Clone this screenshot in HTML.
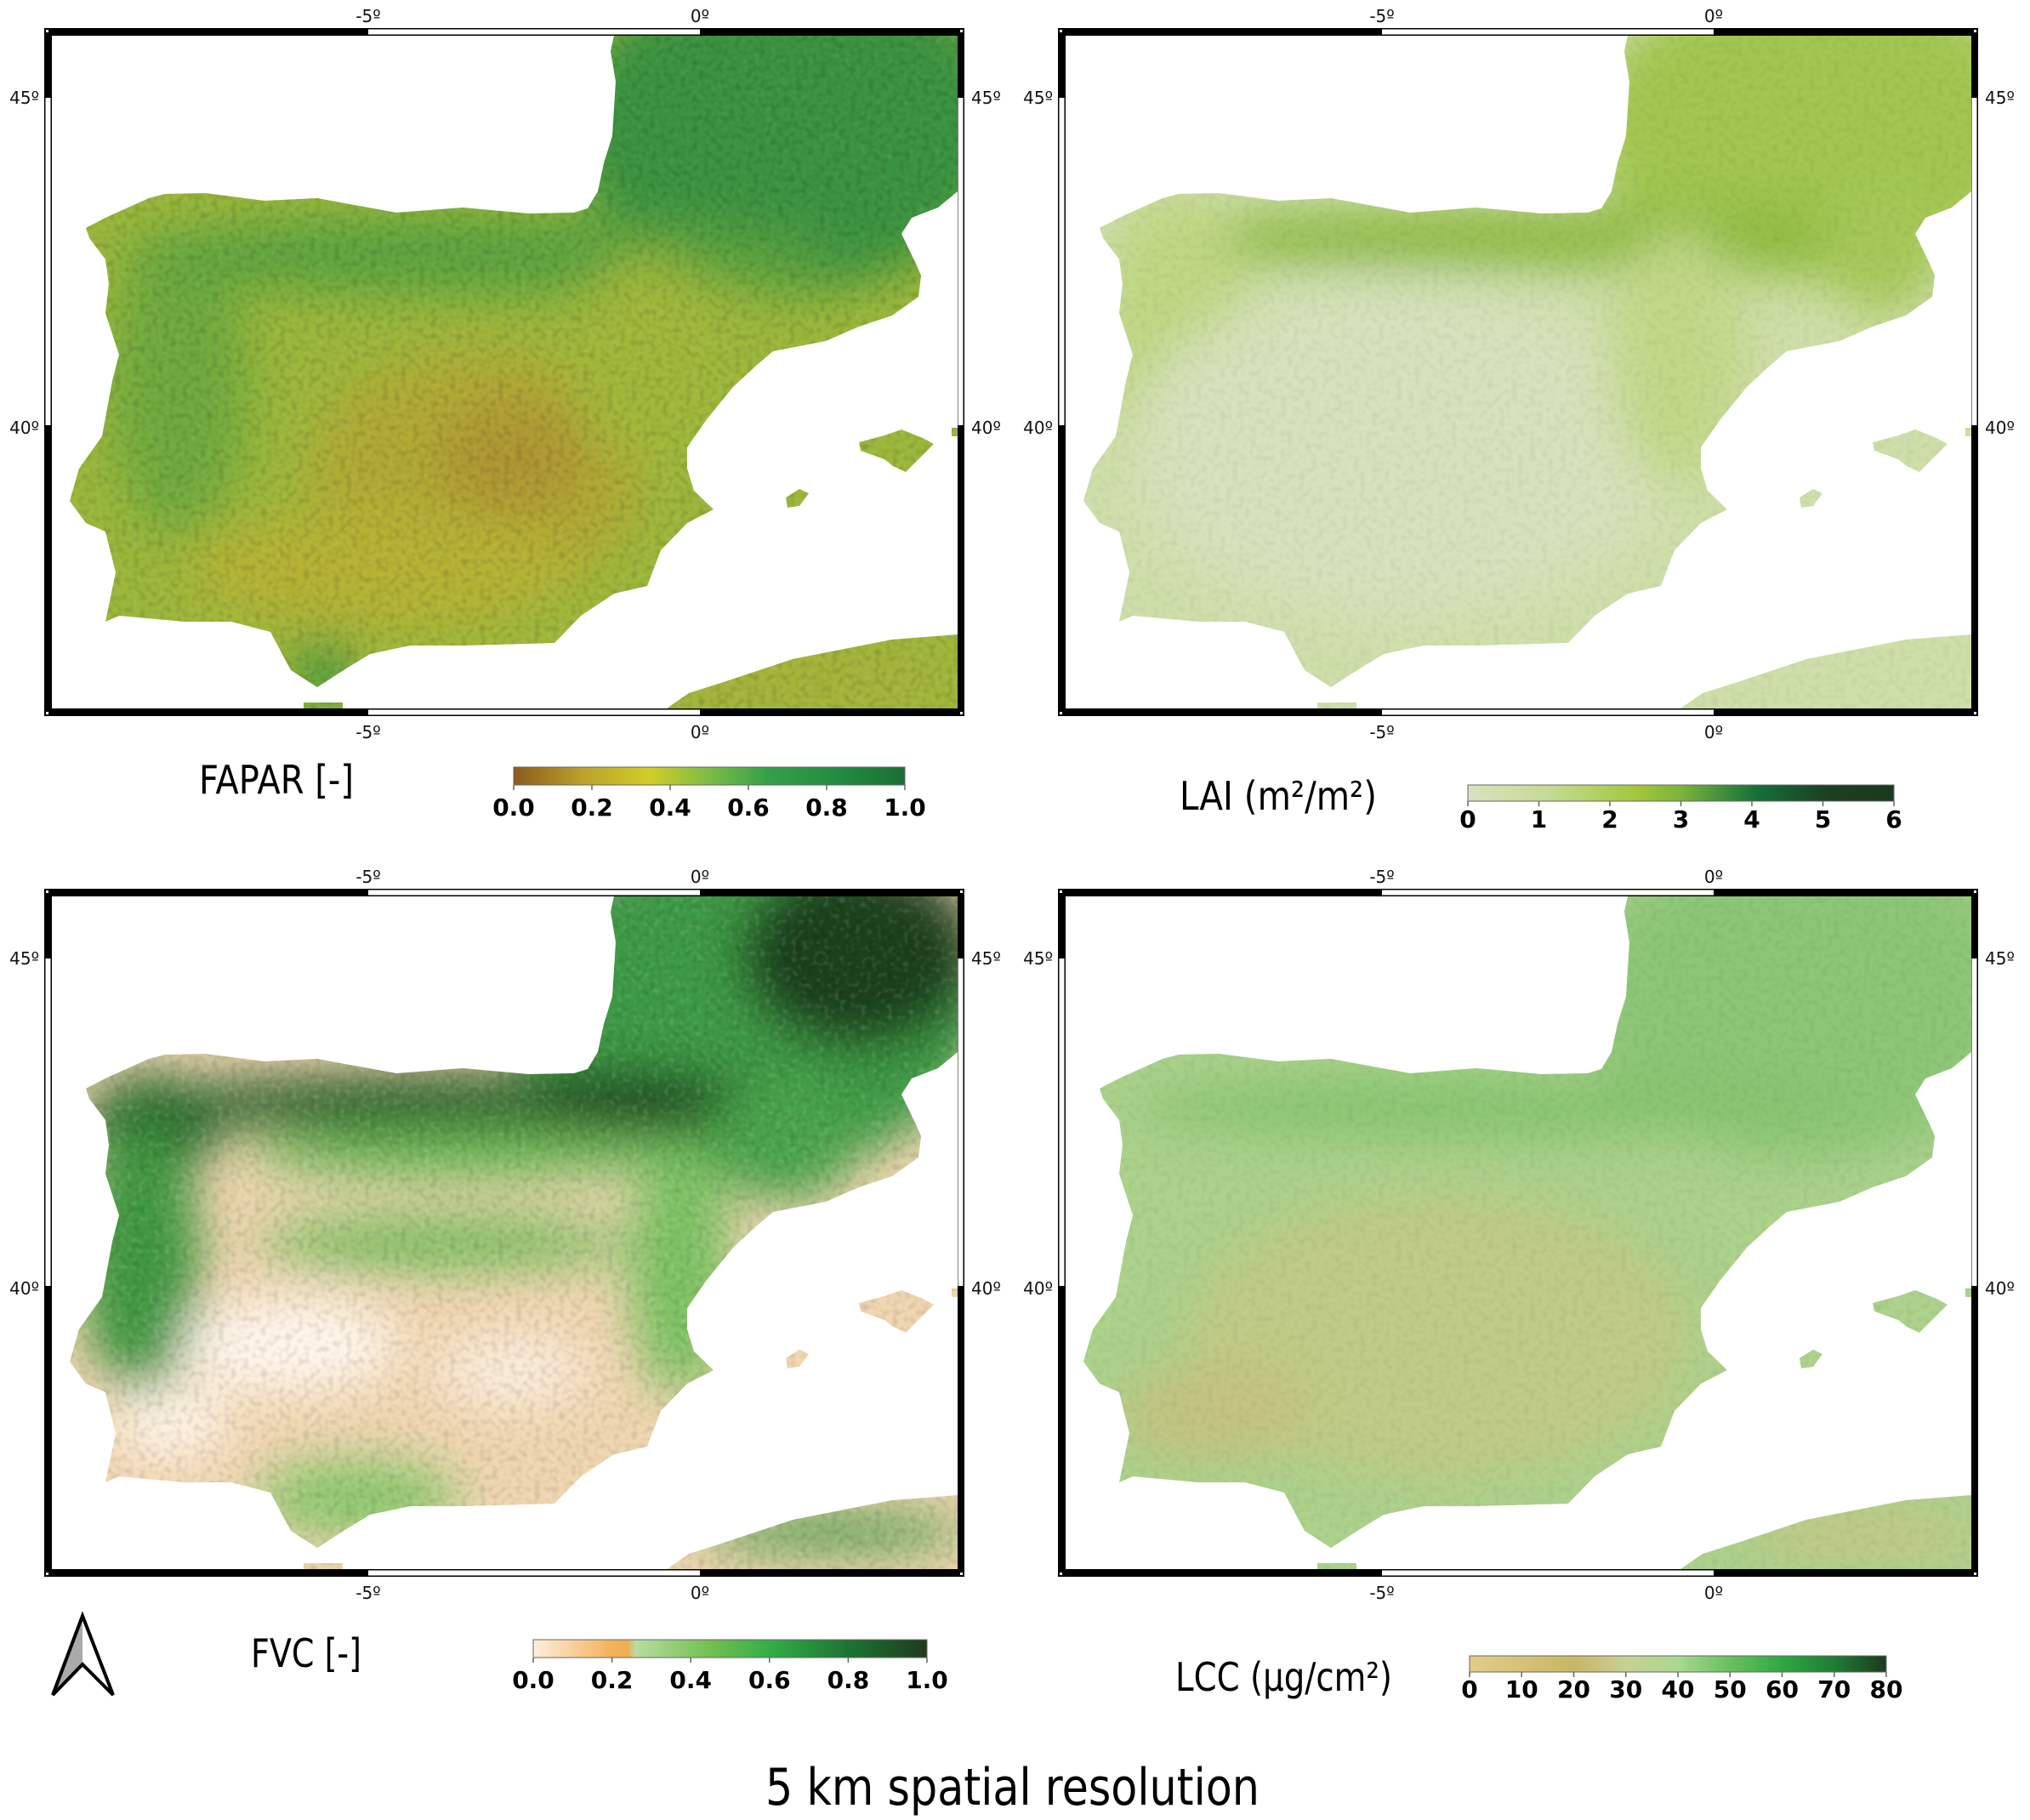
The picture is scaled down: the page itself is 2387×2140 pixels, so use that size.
<!DOCTYPE html>
<html><head><meta charset="utf-8"><style>
html,body{margin:0;padding:0;background:#fff;}
svg{display:block;}
text{font-family:"DejaVu Sans","Liberation Sans",sans-serif;}
</style></head><body>
<svg xmlns="http://www.w3.org/2000/svg" xmlns:xlink="http://www.w3.org/1999/xlink" width="2387" height="2140" viewBox="0 0 2387 2140">
<defs>
<clipPath id="lc"><path d="M722,42 L718,60 L724,96 L720,160 L710,192 L703,225 L691,245 L675,250 L621,251 L544,244 L466,250 L373,233 L311,236 L241,227 L194,228 L175,233 L124,256 L101,268 L105,280 L124,305 L128,334 L124,368 L140,417 L132,448 L120,513 L93,551 L82,589 L101,615 L124,625 L136,673 L124,731 L140,724 L217,731 L272,731 L318,743 L342,788 L373,808 L404,788 L435,769 L482,759 L544,759 L652,756 L683,724 L722,698 L761,689 L777,647 L808,615 L839,599 L816,577 L808,551 L808,526 L831,493 L862,455 L889,430 L909,413 L971,401 L1010,384 L1049,371 L1080,349 L1083,324 L1076,308 L1060,275 L1072,256 L1103,244 L1126,225 L1126,42 Z
M784,833 L810,815 L854,801 L932,775 L1049,752 L1126,746 L1126,833 Z
M357,826 L403,826 L403,833 L357,833 Z
M1010,520 L1040,512 L1060,505 L1085,515 L1098,522 L1080,540 L1065,555 L1050,548 L1040,540 L1012,530 Z
M924,585 L940,575 L951,580 L940,595 L926,597 Z
M1119,503 L1126,503 L1126,513 L1119,513 Z"/></clipPath>
<filter id="bl" x="-50%" y="-50%" width="200%" height="200%"><feGaussianBlur stdDeviation="28"/></filter>
<filter id="nz" x="0" y="0" width="100%" height="100%"><feTurbulence type="fractalNoise" baseFrequency="0.14" numOctaves="1" seed="4"/><feColorMatrix type="matrix" values="0 0 0 0 0  0 0 0 0 0  0 0 0 0 0  0 0 0 1.6 -0.7"/></filter>
<filter id="nz2" x="0" y="0" width="100%" height="100%"><feTurbulence type="fractalNoise" baseFrequency="0.16" numOctaves="1" seed="9"/><feColorMatrix type="matrix" values="0 0 0 0 1  0 0 0 0 1  0 0 0 0 1  0 0 0 1.6 -0.8"/></filter>
<g id="frame">
<rect x="52" y="33" width="1082" height="809" fill="#000"/>
<rect x="61" y="42" width="1065" height="791" fill="#fff"/>
<rect x="433" y="34.5" width="390" height="6" fill="#fff"/>
<rect x="433" y="834.5" width="390" height="6" fill="#fff"/>
<rect x="53.5" y="115" width="6" height="385" fill="#fff"/>
<rect x="1126.5" y="115" width="6" height="385" fill="#fff"/>
<rect x="54" y="35" width="3" height="3" fill="#fff"/>
<rect x="1129" y="35" width="3" height="3" fill="#fff"/>
<rect x="54" y="837" width="3" height="3" fill="#fff"/>
<rect x="1129" y="837" width="3" height="3" fill="#fff"/>
</g>
<g id="labs" font-size="20" fill="#111">
<text x="433" y="26" text-anchor="middle">-5º</text>
<text x="823" y="26" text-anchor="middle">0º</text>
<text x="433" y="868" text-anchor="middle">-5º</text>
<text x="823" y="868" text-anchor="middle">0º</text>
<text x="46" y="122" text-anchor="end">45º</text>
<text x="46" y="510" text-anchor="end">40º</text>
<text x="1142" y="122">45º</text>
<text x="1142" y="510">40º</text>
</g>
<linearGradient id="gF" x1="0" x2="1"><stop offset="0" stop-color="#8b5a1e"/><stop offset="0.18" stop-color="#bba32c"/><stop offset="0.35" stop-color="#d2cd28"/><stop offset="0.5" stop-color="#7cbc45"/><stop offset="0.65" stop-color="#34a049"/><stop offset="0.85" stop-color="#1f8a3e"/><stop offset="1" stop-color="#1c6e36"/></linearGradient>
<linearGradient id="gL" x1="0" x2="1"><stop offset="0" stop-color="#d8e3bf"/><stop offset="0.2" stop-color="#c4da90"/><stop offset="0.4" stop-color="#a2c63a"/><stop offset="0.5" stop-color="#7bb43a"/><stop offset="0.68" stop-color="#137038"/><stop offset="0.85" stop-color="#1c3e22"/><stop offset="1" stop-color="#1a3a1e"/></linearGradient>
<linearGradient id="gV" x1="0" x2="1"><stop offset="0" stop-color="#fdeedd"/><stop offset="0.2" stop-color="#f4b25c"/><stop offset="0.24" stop-color="#f0ad56"/><stop offset="0.26" stop-color="#b8dca2"/><stop offset="0.45" stop-color="#72c050"/><stop offset="0.6" stop-color="#35ad47"/><stop offset="0.8" stop-color="#1c7434"/><stop offset="1" stop-color="#1f3a1c"/></linearGradient>
<linearGradient id="gC" x1="0" x2="1"><stop offset="0" stop-color="#e4cc88"/><stop offset="0.25" stop-color="#c9b666"/><stop offset="0.38" stop-color="#c6d196"/><stop offset="0.5" stop-color="#a8d890"/><stop offset="0.62" stop-color="#6cc060"/><stop offset="0.75" stop-color="#2ea844"/><stop offset="0.88" stop-color="#1f7a35"/><stop offset="1" stop-color="#1c3a1e"/></linearGradient>
</defs>
<rect width="2387" height="2140" fill="#fff"/>

<!-- Panel 1 FAPAR -->
<g>
<use xlink:href="#frame"/>
<use xlink:href="#labs"/>
<g clip-path="url(#lc)">
<rect x="52" y="33" width="1082" height="809" fill="#9cb83c"/>
<g filter="url(#bl)">
<ellipse cx="930" cy="150" rx="260" ry="190" fill="#3a933f"/>
<ellipse cx="560" cy="300" rx="420" ry="45" fill="#5aa240"/>
<ellipse cx="210" cy="450" rx="80" ry="180" fill="#64a63e" opacity="0.8"/>
<ellipse cx="560" cy="560" rx="200" ry="150" fill="#b2a834" opacity="0.9"/>
<ellipse cx="600" cy="540" rx="90" ry="70" fill="#ae9030" opacity="0.7"/>
<ellipse cx="450" cy="670" rx="230" ry="70" fill="#b5b234"/>
<ellipse cx="760" cy="420" rx="90" ry="120" fill="#a0b83a"/>
<ellipse cx="380" cy="790" rx="30" ry="40" fill="#3a9440"/>
<ellipse cx="950" cy="800" rx="180" ry="40" fill="#a8b23a"/>
</g>
<rect x="52" y="33" width="1082" height="809" filter="url(#nz)" opacity="0.22"/>
<rect x="52" y="33" width="1082" height="809" filter="url(#nz2)" opacity="0.12"/>
</g>
</g>

<!-- Panel 2 LAI -->
<g transform="translate(1192,0)">
<use xlink:href="#frame"/>
<use xlink:href="#labs"/>
<g clip-path="url(#lc)">
<rect x="52" y="33" width="1082" height="809" fill="#cfdfaa"/>
<g filter="url(#bl)">
<ellipse cx="940" cy="150" rx="260" ry="180" fill="#a2c650"/>
<ellipse cx="600" cy="280" rx="480" ry="35" fill="#8cba40"/>
<ellipse cx="190" cy="420" rx="90" ry="200" fill="#c0d783"/>
<ellipse cx="450" cy="530" rx="320" ry="200" fill="#d6e2bb"/>
<ellipse cx="780" cy="420" rx="80" ry="150" fill="#c2d888"/>
<ellipse cx="1020" cy="290" rx="70" ry="80" fill="#a6c858"/>
</g>
<rect x="52" y="33" width="1082" height="809" filter="url(#nz)" opacity="0.08"/>
</g>
</g>

<!-- Panel 3 FVC -->
<g transform="translate(0,1012)">
<use xlink:href="#frame"/>
<use xlink:href="#labs"/>
<g clip-path="url(#lc)">
<rect x="52" y="33" width="1082" height="809" fill="#f0d6b0"/>
<g filter="url(#bl)">
<ellipse cx="880" cy="170" rx="280" ry="200" fill="#3c9a44"/>
<ellipse cx="1010" cy="110" rx="140" ry="110" fill="#1e3f1c"/>
<ellipse cx="560" cy="285" rx="420" ry="36" fill="#2a5e2c"/>
<ellipse cx="750" cy="280" rx="110" ry="30" fill="#1f3f1d"/>
<ellipse cx="180" cy="310" rx="80" ry="60" fill="#2a6a2e"/>
<ellipse cx="165" cy="470" rx="70" ry="160" fill="#3f9840"/>
<ellipse cx="550" cy="345" rx="260" ry="30" fill="#6fbb58"/>
<ellipse cx="520" cy="450" rx="220" ry="30" fill="#72bc58"/>
<ellipse cx="920" cy="330" rx="90" ry="70" fill="#4aa448"/>
<ellipse cx="800" cy="480" rx="60" ry="150" fill="#7cc262"/>
<ellipse cx="340" cy="570" rx="130" ry="55" fill="#fff6ec"/>
<ellipse cx="600" cy="600" rx="90" ry="40" fill="#fbeedd"/>
<ellipse cx="200" cy="660" rx="70" ry="45" fill="#fff4e6"/>
<ellipse cx="420" cy="750" rx="120" ry="45" fill="#8ac86c"/>
<ellipse cx="980" cy="790" rx="160" ry="22" fill="#4a9c48"/>
</g>
<rect x="52" y="33" width="1082" height="809" filter="url(#nz)" opacity="0.18"/>
<rect x="52" y="33" width="1082" height="809" filter="url(#nz2)" opacity="0.25"/>
</g>
</g>

<!-- Panel 4 LCC -->
<g transform="translate(1192,1012)">
<use xlink:href="#frame"/>
<use xlink:href="#labs"/>
<g clip-path="url(#lc)">
<rect x="52" y="33" width="1082" height="809" fill="#acd28c"/>
<g filter="url(#bl)">
<ellipse cx="930" cy="160" rx="260" ry="190" fill="#8cc676"/>
<ellipse cx="560" cy="290" rx="420" ry="36" fill="#86c470"/>
<ellipse cx="500" cy="560" rx="300" ry="170" fill="#c6c884" opacity="0.75"/>
<ellipse cx="230" cy="650" rx="110" ry="60" fill="#c8c07e" opacity="0.8"/>
<ellipse cx="1000" cy="795" rx="140" ry="35" fill="#c2c888"/>
</g>
<rect x="52" y="33" width="1082" height="809" filter="url(#nz)" opacity="0.08"/>
</g>
</g>

<!-- Colorbar labels -->
<g fill="#000">
<text x="234" y="933" font-size="46" textLength="182" lengthAdjust="spacingAndGlyphs">FAPAR [-]</text>
<text x="1387" y="952" font-size="46" textLength="232" lengthAdjust="spacingAndGlyphs">LAI (m²/m²)</text>
<text x="295" y="1960" font-size="46" textLength="130" lengthAdjust="spacingAndGlyphs">FVC [-]</text>
<text x="1382" y="1988" font-size="46" textLength="255" lengthAdjust="spacingAndGlyphs">LCC (µg/cm²)</text>
<text x="900" y="2122" font-size="60" textLength="581" lengthAdjust="spacingAndGlyphs">5 km spatial resolution</text>
</g>

<!-- FAPAR bar -->
<rect x="604" y="902" width="460" height="21" fill="url(#gF)" stroke="#666" stroke-width="1"/>
<g stroke="#666" stroke-width="1.5"><path d="M604,923v6M696,923v6M788,923v6M880,923v6M972,923v6M1064,923v6"/></g>
<g font-size="28" font-weight="bold" text-anchor="middle">
<text x="604" y="959">0.0</text><text x="696" y="959">0.2</text><text x="788" y="959">0.4</text><text x="880" y="959">0.6</text><text x="972" y="959">0.8</text><text x="1064" y="959">1.0</text>
</g>

<!-- LAI bar -->
<rect x="1726" y="923" width="501" height="19" fill="url(#gL)" stroke="#666" stroke-width="1"/>
<g stroke="#666" stroke-width="1.5"><path d="M1726,942v6M1809.5,942v6M1893,942v6M1976.5,942v6M2060,942v6M2143.5,942v6M2227,942v6"/></g>
<g font-size="28" font-weight="bold" text-anchor="middle">
<text x="1726" y="973">0</text><text x="1809.5" y="973">1</text><text x="1893" y="973">2</text><text x="1976.5" y="973">3</text><text x="2060" y="973">4</text><text x="2143.5" y="973">5</text><text x="2227" y="973">6</text>
</g>

<!-- FVC bar -->
<rect x="627" y="1928" width="463" height="21" fill="url(#gV)" stroke="#666" stroke-width="1"/>
<g stroke="#666" stroke-width="1.5"><path d="M627,1949v6M719.6,1949v6M812.2,1949v6M904.8,1949v6M997.4,1949v6M1090,1949v6"/></g>
<g font-size="28" font-weight="bold" text-anchor="middle">
<text x="627" y="1985">0.0</text><text x="719.6" y="1985">0.2</text><text x="812.2" y="1985">0.4</text><text x="904.8" y="1985">0.6</text><text x="997.4" y="1985">0.8</text><text x="1090" y="1985">1.0</text>
</g>

<!-- LCC bar -->
<rect x="1728" y="1947" width="490" height="19" fill="url(#gC)" stroke="#666" stroke-width="1"/>
<g stroke="#666" stroke-width="1.5"><path d="M1728,1966v6M1789.25,1966v6M1850.5,1966v6M1911.75,1966v6M1973,1966v6M2034.25,1966v6M2095.5,1966v6M2156.75,1966v6M2218,1966v6"/></g>
<g font-size="28" font-weight="bold" text-anchor="middle">
<text x="1728" y="1996">0</text><text x="1789.25" y="1996">10</text><text x="1850.5" y="1996">20</text><text x="1911.75" y="1996">30</text><text x="1973" y="1996">40</text><text x="2034.25" y="1996">50</text><text x="2095.5" y="1996">60</text><text x="2156.75" y="1996">70</text><text x="2218" y="1996">80</text>
</g>

<!-- North arrow -->
<path d="M97,1900 L97,1957 L62,1993 Z" fill="#aaa"/>
<path d="M97,1900 L62,1993 L97,1957 L133,1993 Z" fill="none" stroke="#000" stroke-width="4" stroke-linejoin="miter"/>
</svg>
</body></html>
